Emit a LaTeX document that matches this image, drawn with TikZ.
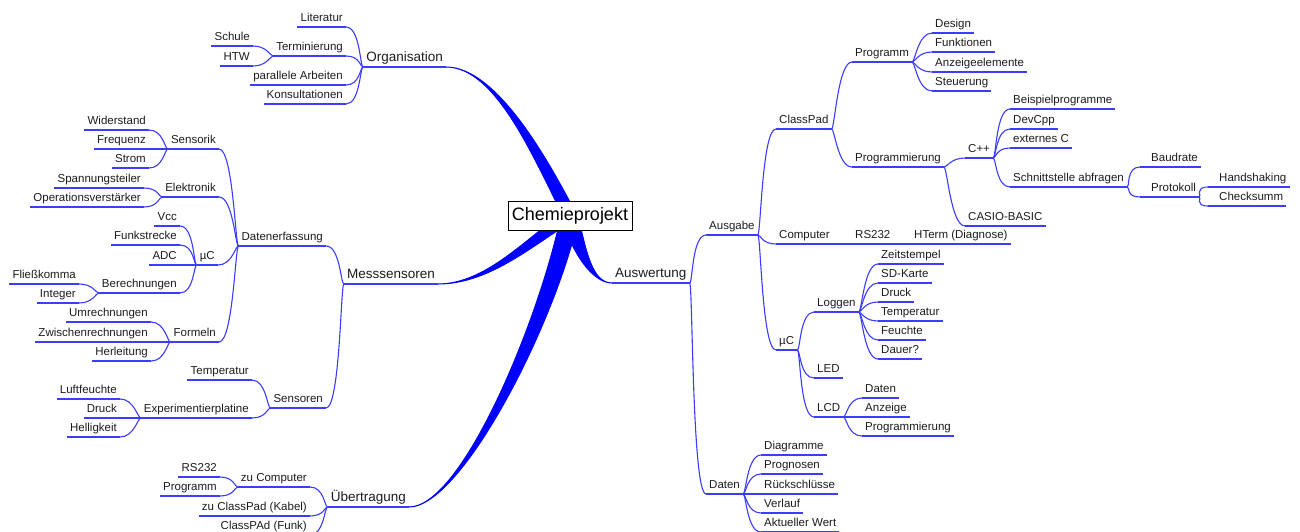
\documentclass[tikz,border=0pt]{standalone}
\usepackage{fontspec}
\setmainfont{Liberation Sans}
\definecolor{edgeblue}{RGB}{60,60,255}
\definecolor{branchblue}{RGB}{0,0,255}
\definecolor{ink}{RGB}{28,28,28}
\begin{document}
\begin{tikzpicture}[x=1pt,y=-1pt,
  lbl/.style={text=ink, font=\fontsize{11.5}{13}\selectfont, inner xsep=3pt,
    inner ysep=5pt, text depth=0pt, text height=8.5pt},
  main/.style={font=\fontsize{13.5}{15}\selectfont, text height=10pt},
  L/.style={lbl, anchor=south east},
  R/.style={lbl, anchor=south west},
  conn/.style={draw=edgeblue, line width=1.1pt},
  % the parent end fans out almost directly, the child end runs in flat
  uplink/.style={conn, out=0, in=180, out distance=14pt, in distance=3pt},
  downlink/.style={conn, out=0, in=180, out distance=3pt, in distance=14pt},
  wedge/.style={fill=branchblue, draw=branchblue, line width=1pt, line join=round},
  rootbox/.style={draw=black, fill=white, line width=0.8pt, text=black,
    font=\fontsize{18}{20}\selectfont, minimum width=124pt, minimum height=29pt, inner sep=0pt}
]
\useasboundingbox (0,0) rectangle (1300,531);
\clip (0,0) rectangle (1300,531);

% ---------- left half ----------
\node[L,main] (org) at (446,67) {Organisation};
\node[L] (lit) at (346,27) {Literatur};
\node[L] (ter) at (346,56) {Terminierung};
\node[L] (sch) at (253,46) {Schule};
\node[L] (htw) at (253,66) {HTW};
\node[L] (par) at (346,85) {parallele Arbeiten};
\node[L] (kon) at (346,104) {Konsultationen};

\node[L,main] (mes) at (438,284) {Messsensoren};
\node[L] (dat) at (326,246) {Datenerfassung};
\node[L] (sen) at (219,149) {Sensorik};
\node[L] (wid) at (149,130) {Widerstand};
\node[L] (fre) at (149,149) {Frequenz};
\node[L] (str) at (149,168) {Strom};
\node[L] (ele) at (219,197) {Elektronik};
\node[L] (spa) at (144,188) {Spannungsteiler};
\node[L] (opv) at (144,207) {Operationsverstärker};
\node[L] (mul) at (218,265) {µC};
\node[L] (vcc) at (180,226) {Vcc};
\node[L] (fun) at (180,245) {Funkstrecke};
\node[L] (adc) at (180,265) {ADC};
\node[L] (ber) at (180,293) {Berechnungen};
\node[L] (fli) at (79,284) {Fließkomma};
\node[L] (int) at (79,303) {Integer};
\node[L] (fml) at (219,342) {Formeln};
\node[L] (umr) at (151,322) {Umrechnungen};
\node[L] (zwi) at (151,342) {Zwischenrechnungen};
\node[L] (her) at (151,361) {Herleitung};
\node[L] (sns) at (326,408) {Sensoren};
\node[L] (tem) at (252,380) {Temperatur};
\node[L] (exp) at (252,418) {Experimentierplatine};
\node[L] (luf) at (120,399) {Luftfeuchte};
\node[L] (dru) at (120,418) {Druck};
\node[L] (hel) at (120,437) {Helligkeit};

\node[L,main] (ueb) at (409,507) {Übertragung};
\node[L] (zco) at (310,487) {zu Computer};
\node[L] (rsa) at (220,477) {RS232};
\node[L] (prg) at (220,496) {Programm};
\node[L] (zck) at (310,516) {zu ClassPad (Kabel)};
\node[L] (cpf) at (310,535) {ClassPAd (Funk)};

% ---------- right half ----------
\node[R,main] (aus) at (612,283) {Auswertung};
\node[R] (agb) at (706,235) {Ausgabe};
\node[R] (cpd) at (776,129) {ClassPad};
\node[R] (pgm) at (852,62) {Programm};
\node[R] (des) at (932,33) {Design};
\node[R] (fkt) at (932,52) {Funktionen};
\node[R] (anz) at (932,72) {Anzeigeelemente};
\node[R] (ste) at (932,91) {Steuerung};
\node[R] (pgr) at (852,167) {Programmierung};
\node[R] (cpp) at (965,158) {C++};
\node[R] (cas) at (965,226) {CASIO-BASIC};
\node[R] (bsp) at (1010,109) {Beispielprogramme};
\node[R] (dev) at (1010,129) {DevCpp};
\node[R] (ext) at (1010,148) {externes C};
\node[R] (snt) at (1010,187) {Schnittstelle abfragen};
\node[R] (bau) at (1140,167) {\hspace*{8pt}Baudrate};
\node[R] (pro) at (1140,197) {\hspace*{8pt}Protokoll};
\node[R] (han) at (1208,187) {\hspace*{8pt}Handshaking};
\node[R] (chk) at (1208,206) {\hspace*{8pt}Checksumm};
\node[R] (com) at (776,244) {Computer};
\node[R] (rsb) at (852,244) {RS232};
\node[R] (hte) at (911,244) {HTerm (Diagnose)};
\node[R] (mur) at (776,350) {µC};
\node[R] (log) at (814,312) {Loggen};
\node[R] (zei) at (878,264) {Zeitstempel};
\node[R] (sdk) at (878,283) {SD-Karte};
\node[R] (drk) at (878,302) {Druck};
\node[R] (tmp) at (878,321) {Temperatur};
\node[R] (feu) at (878,340) {Feuchte};
\node[R] (dau) at (878,359) {Dauer?};
\node[R] (led) at (814,378) {LED};
\node[R] (lcd) at (814,417) {LCD};
\node[R] (ldt) at (862,398) {Daten};
\node[R] (lan) at (862,417) {Anzeige};
\node[R] (lpr) at (862,436) {Programmierung};
\node[R] (dtn) at (706,494) {Daten};
\node[R] (dia) at (761,455) {Diagramme};
\node[R] (prn) at (761,474) {Prognosen};
\node[R] (rue) at (761,494) {Rückschlüsse};
\node[R] (ver) at (761,513) {Verlauf};
\node[R] (akt) at (761,532) {Aktueller Wert};

% underlines below every label
\foreach \n in {org,lit,ter,sch,htw,par,kon,mes,dat,sen,wid,fre,str,ele,spa,opv,
  mul,vcc,fun,adc,ber,fli,int,fml,umr,zwi,her,sns,tem,exp,luf,dru,hel,ueb,zco,
  rsa,prg,zck,cpf,aus,agb,cpd,pgm,des,fkt,anz,ste,pgr,cpp,cas,bsp,dev,ext,snt,
  bau,pro,han,chk,com,rsb,hte,mur,log,zei,sdk,drk,tmp,feu,dau,led,lcd,ldt,lan,
  lpr,dtn,dia,prn,rue,ver,akt}
  \draw[conn] (\n.south west) -- (\n.south east);

% connectors, left half: child -> parent
\foreach \c/\p in {lit/org,ter/org,par/org,kon/org,sch/ter,htw/ter,
  dat/mes,sns/mes,sen/dat,ele/dat,mul/dat,fml/dat,wid/sen,fre/sen,str/sen,
  spa/ele,opv/ele,vcc/mul,fun/mul,adc/mul,ber/mul,fli/ber,int/ber,
  umr/fml,zwi/fml,her/fml,tem/sns,exp/sns,luf/exp,dru/exp,hel/exp,
  zco/ueb,zck/ueb,cpf/ueb,rsa/zco,prg/zco}
  \draw[uplink] (\c.south east) to (\p.south west);

% connectors, right half: parent -> child
\foreach \p/\c in {aus/agb,aus/dtn,agb/cpd,agb/com,agb/mur,cpd/pgm,cpd/pgr,
  pgm/des,pgm/fkt,pgm/anz,pgm/ste,pgr/cpp,pgr/cas,cpp/bsp,cpp/dev,cpp/ext,
  cpp/snt,snt/bau,snt/pro,pro/han,pro/chk,com/rsb,rsb/hte,mur/log,mur/led,
  mur/lcd,log/zei,log/sdk,log/drk,log/tmp,log/feu,log/dau,lcd/ldt,lcd/lan,
  lcd/lpr,dtn/dia,dtn/prn,dtn/rue,dtn/ver,dtn/akt}
  \draw[downlink] (\p.south east) to (\c.south west);

% tapered main branches out of the centre
\coordinate (rc) at (570,215.5);
\filldraw[wedge] (org.south east) .. controls +(50,0) and +(-30,-58) .. ([xshift=-7pt]rc)
  -- ([xshift=7pt]rc) .. controls +(-30,-58) and +(50,0) .. (org.south east) -- cycle;
\filldraw[wedge] (mes.south east) .. controls +(50,0) and +(-40,25) .. ([yshift=7pt]rc)
  -- ([yshift=-7pt]rc) .. controls +(-40,25) and +(50,0) .. (mes.south east) -- cycle;
\filldraw[wedge] (ueb.south east) .. controls +(53,0) and +(-22,105) .. ([xshift=-9pt]rc)
  -- ([xshift=9pt]rc) .. controls +(-22,105) and +(53,0) .. (ueb.south east) -- cycle;
\filldraw[wedge] ([xshift=-8pt]rc) .. controls +(8,35) and +(-20,0) .. (aus.south west)
  .. controls +(-20,0) and +(8,35) .. ([xshift=8pt]rc) -- cycle;

\node[rootbox] (root) at (rc) {Chemieprojekt};
\end{tikzpicture}
\end{document}
